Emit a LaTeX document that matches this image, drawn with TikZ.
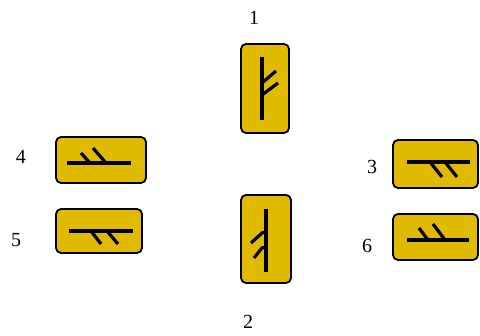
\documentclass[tikz,border=0pt]{standalone}
\usepackage{fontspec}
\setmainfont{Liberation Serif}
\definecolor{gold}{RGB}{224,186,0}
\begin{document}
\begin{tikzpicture}[x=1pt,y=-1pt,
  tile/.style={draw=black,line width=1.8pt,fill=gold,rounded corners=5pt},
  rune/.style={line width=3.2pt,line cap=butt},
  lbl/.style={font=\fontsize{20}{22}\selectfont,inner sep=0pt}]
\useasboundingbox (0,0) rectangle (480,336);
% tiles
\path[tile] (241,44) rectangle (289,133) coordinate (t1);
\path[tile] (241,195) rectangle (291,283) coordinate (t2);
\path[tile] (393,140) rectangle (478,188) coordinate (t3);
\path[tile] (56,137) rectangle (146,183) coordinate (t4);
\path[tile] (56,209) rectangle (142,253) coordinate (t5);
\path[tile] (393,214) rectangle (478,260) coordinate (t6);
% rune 1
\draw[rune] (262,57) -- (262,120);
\draw[rune] (262,83) -- (276,71);
\draw[rune] (262,95) -- (278,83);
% rune 2
\draw[rune] (266,209) -- (266,272);
\draw[rune] (266,232) -- (262,233) -- (251,243);
\draw[rune] (266,247) -- (262,248) -- (254,258);
% rune 3
\draw[rune] (407,162) -- (470,162);
\draw[rune] (430,162) -- (442,177);
\draw[rune] (445,162) -- (457,177);
% rune 4
\draw[rune] (67,163) -- (131,163);
\draw[rune] (81,153) -- (90,163);
\draw[rune] (93,148) -- (106,163);
% rune 5
\draw[rune] (69,231) -- (133,231);
\draw[rune] (91,231) -- (101,244);
\draw[rune] (107,231) -- (118,244);
% rune 6
\draw[rune] (407,240) -- (469,240);
\draw[rune] (419,228) -- (428,240);
\draw[rune] (433,224) -- (445,240);
% labels
\node[lbl] (n1) at (254,18) {1};
\node[lbl] (n2) at (248,322) {2};
\node[lbl] (n3) at (372,167) {3};
\node[lbl] (n4) at (21,157) {4};
\node[lbl] (n5) at (16,240) {5};
\node[lbl] (n6) at (367,246) {6};
\end{tikzpicture}
\end{document}
